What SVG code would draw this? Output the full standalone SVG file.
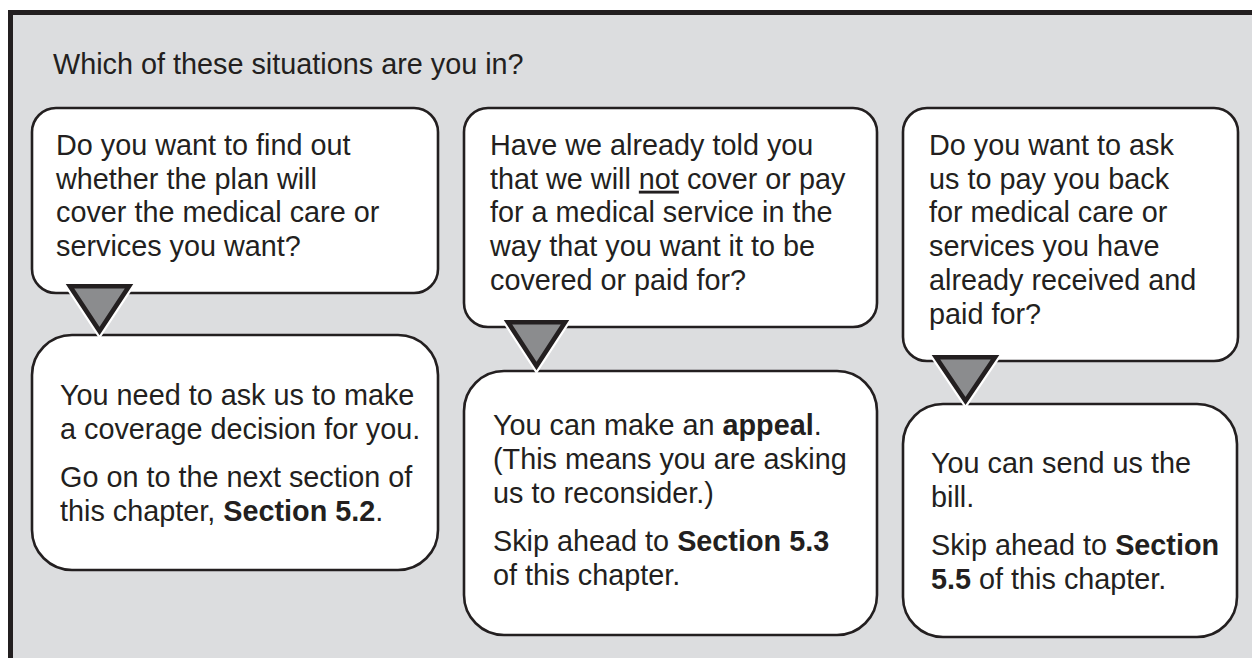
<svg xmlns="http://www.w3.org/2000/svg" width="1252" height="658" viewBox="0 0 1252 658">
<defs>
<style>
.frame{fill:#dcdddf;}
.frameline{fill:none;stroke:#231f20;stroke-width:5;}
.box{fill:#ffffff;stroke:#231f20;stroke-width:2.6;}
.t{font-family:"Liberation Sans",Arial,Helvetica,sans-serif;font-size:28.8px;fill:#231f20;}
.b{font-weight:bold;}
.u{text-decoration:underline;}
.halo{fill:none;stroke:#ffffff;stroke-width:9;stroke-linejoin:miter;stroke-miterlimit:10;}
.tri{fill:#8b8c8e;stroke:#231f20;stroke-width:4.6;stroke-linejoin:miter;stroke-miterlimit:10;}
</style>
</defs>
<rect class="frame" x="8" y="10" width="1260" height="660"/>
<path class="frameline" d="M10.5,670 V12.5 H1260"/>
<text class="t" x="53" y="74">Which of these situations are you in?</text>

<g id="q1">
<rect class="box" x="32" y="108" width="406" height="185" rx="24" ry="24"/>
<text class="t"><tspan x="56" y="155">Do you want to find out</tspan><tspan x="56" y="188.7">whether the plan will</tspan><tspan x="56" y="222.4">cover the medical care or</tspan><tspan x="56" y="256.1">services you want?</tspan></text>
</g>
<g id="q2">
<rect class="box" x="464" y="108" width="413" height="219" rx="24" ry="24"/>
<text class="t"><tspan x="490" y="155">Have we already told you</tspan><tspan x="490" y="188.7">that we will <tspan class="u">not</tspan> cover or pay</tspan><tspan x="490" y="222.4">for a medical service in the</tspan><tspan x="490" y="256.1">way that you want it to be</tspan><tspan x="490" y="289.8">covered or paid for?</tspan></text>
</g>
<g id="q3">
<rect class="box" x="903" y="108" width="335" height="253" rx="24" ry="24"/>
<text class="t"><tspan x="929" y="155">Do you want to ask</tspan><tspan x="929" y="188.7">us to pay you back</tspan><tspan x="929" y="222.4">for medical care or</tspan><tspan x="929" y="256.1">services you have</tspan><tspan x="929" y="289.8">already received and</tspan><tspan x="929" y="323.5">paid for?</tspan></text>
</g>

<g id="a1">
<rect class="box" x="32" y="335" width="406" height="235" rx="40" ry="40"/>
<text class="t"><tspan x="60" y="405">You need to ask us to make</tspan><tspan x="60" y="439">a coverage decision for you.</tspan><tspan x="60" y="487">Go on to the next section of</tspan><tspan x="60" y="521">this chapter, <tspan class="b">Section 5.2</tspan>.</tspan></text>
</g>
<g id="a2">
<rect class="box" x="464" y="371" width="413" height="264" rx="40" ry="40"/>
<text class="t"><tspan x="493" y="435">You can make an <tspan class="b">appeal</tspan>.</tspan><tspan x="493" y="469">(This means you are asking</tspan><tspan x="493" y="503">us to reconsider.)</tspan><tspan x="493" y="551">Skip ahead to <tspan class="b">Section 5.3</tspan></tspan><tspan x="493" y="585">of this chapter.</tspan></text>
</g>
<g id="a3">
<rect class="box" x="903" y="404" width="334" height="233" rx="40" ry="40"/>
<text class="t"><tspan x="931" y="473">You can send us the</tspan><tspan x="931" y="507">bill.</tspan><tspan x="931" y="555">Skip ahead to <tspan class="b">Section</tspan></tspan><tspan x="931" y="589"><tspan class="b">5.5</tspan> of this chapter.</tspan></text>
</g>

<g id="connectors">
<polygon class="halo" points="70,286.3 129,286.3 99.5,331"/>
<polygon class="tri" points="70,286.3 129,286.3 99.5,331"/>
<polygon class="halo" points="508,322.3 565,322.3 536.5,366"/>
<polygon class="tri" points="508,322.3 565,322.3 536.5,366"/>
<polygon class="halo" points="936,357.3 995,357.3 965.5,401"/>
<polygon class="tri" points="936,357.3 995,357.3 965.5,401"/>
</g>
</svg>
